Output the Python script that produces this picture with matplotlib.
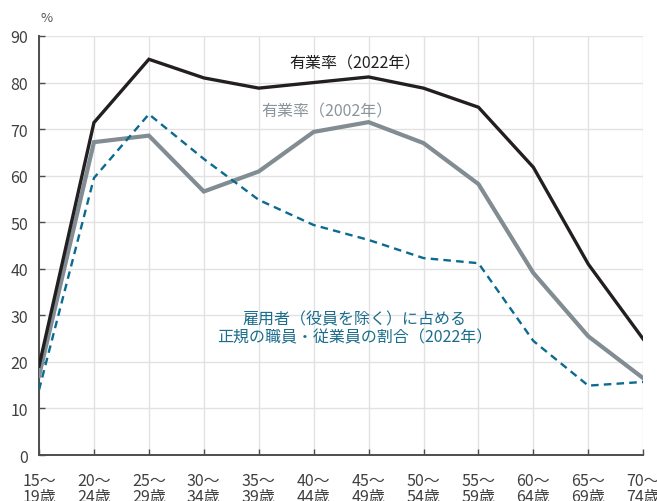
import matplotlib
matplotlib.use("Agg")
import matplotlib.pyplot as plt

plt.rcParams['font.family'] = ['Noto Sans CJK JP', 'DejaVu Sans']

# 年齢階級
age_groups = ["15～\n19歳", "20～\n24歳", "25～\n29歳", "30～\n34歳", "35～\n39歳", "40～\n44歳",
              "45～\n49歳", "50～\n54歳", "55～\n59歳", "60～\n64歳", "65～\n69歳", "70～\n74歳"]

# 有業率（%）
rate_2022 = [19.1, 71.4, 85.0, 81.0, 78.8, 80.0, 81.2, 78.8, 74.7, 61.8, 41.0, 24.9]
rate_2002 = [17.0, 67.2, 68.6, 56.6, 60.9, 69.4, 71.5, 67.0, 58.2, 39.1, 25.5, 16.5]

# 雇用者（役員を除く）に占める正規の職員・従業員の割合（%）
regular_2022 = [14.0, 59.5, 73.2, 63.6, 54.8, 49.4, 46.2, 42.3, 41.2, 24.5, 14.9, 15.7]

fig = plt.figure(figsize=(6.57, 5.02), dpi=100)
ax = fig.add_axes([0.0594, 0.0916, 0.9196, 0.8347])

x = list(range(len(age_groups)))
ax.plot(x, rate_2002, color='#818c93', lw=3.0, solid_joinstyle='miter', zorder=3)
ax.plot(x, rate_2022, color='#231f20', lw=2.4, solid_joinstyle='miter', zorder=4)
ax.plot(x, regular_2022, color='#0a6a8f', lw=1.7, dashes=(3.2, 2.2), zorder=5)

ax.set_xlim(0, 11)
ax.set_ylim(0, 90)
ax.set_yticks(range(0, 91, 10))
ax.set_xticks(x)
ax.set_xticklabels(age_groups, linespacing=0.95)

ax.grid(True, color='#e2e2e2', lw=1.0, zorder=0)
ax.set_axisbelow(True)
for s in ['top', 'right']:
    ax.spines[s].set_visible(False)
for s in ['left', 'bottom']:
    ax.spines[s].set_color('#4d4d4d')
    ax.spines[s].set_linewidth(1.4)
ax.tick_params(direction='in', length=4, width=1.0, color='#4d4d4d',
               labelsize=11.5, labelcolor='#404040')
ax.tick_params(axis='x', pad=12)
ax.tick_params(axis='y', pad=8)

fig.text(0.0716, 0.964, '%', fontsize=9.5, color='#555555', ha='center', va='center')

ax.text(5.75, 84.3, '有業率（2022年）', fontsize=11.5, color='#231f20', ha='center', va='center')
ax.text(5.25, 74.0, '有業率（2002年）', fontsize=11.5, color='#8a959c', ha='center', va='center')
ax.text(5.75, 27.3, '雇用者（役員を除く）に占める\n正規の職員・従業員の割合（2022年）',
        fontsize=11.5, color='#1a6d8c', ha='center', va='center', linespacing=1.1)

fig.savefig('out.png', dpi=100)
plt.close(fig)
